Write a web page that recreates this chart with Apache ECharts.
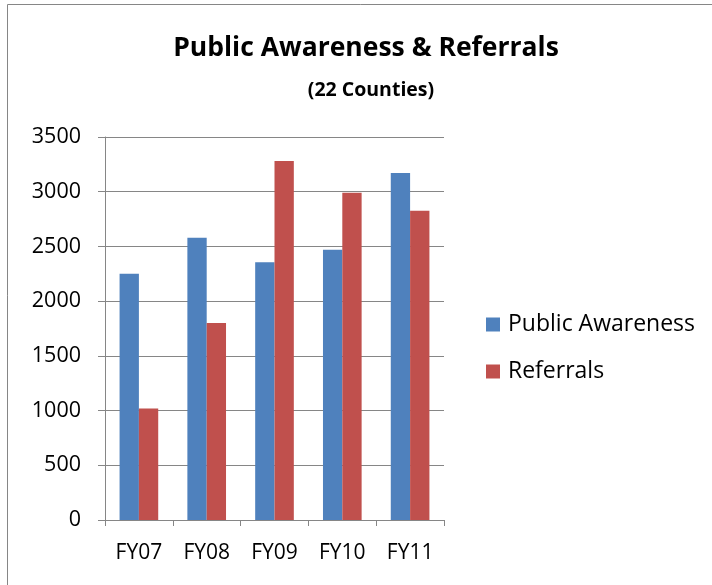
<!DOCTYPE html>
<html><head><meta charset="utf-8">
<script src="https://cdn.jsdelivr.net/npm/echarts@6/dist/echarts.min.js"></script>
<style>html,body{margin:0;padding:0;background:#fff}#c{width:712px;height:585px}</style>
</head><body><div id="c"></div>
<script>
const categories = ['FY07','FY08','FY09','FY10','FY11'];
const publicAwareness = [2250, 2580, 2355, 2470, 3170];
const referrals = [1020, 1800, 3280, 2990, 2825];
const yTicks = {min: 0, max: 3500, interval: 500};
const FONT = 'Open Sans';
const chart = echarts.init(document.getElementById('c'));
chart.setOption({
  animation: false,
  backgroundColor: '#fff',
  textStyle: {fontFamily: FONT},
  graphic: [{type: 'rect', shape: {x: 7.5, y: 4.5, width: 720, height: 600}, style: {fill: 'none', stroke: '#868686', lineWidth: 1}, silent: true}],
  title: [
    {text: 'Public Awareness & Referrals', left: 361, top: 30, textAlign: 'center', textStyle: {fontFamily: FONT, fontSize: 26.5, fontWeight: 'bold', color: '#000'}},
    {text: '(22 Counties)', left: 366, top: 75, textAlign: 'center', textStyle: {fontFamily: FONT, fontSize: 19.5, fontWeight: 'bold', color: '#000'}}
  ],
  legend: {
    orient: 'vertical', left: 486, top: 313, padding: 0, itemWidth: 14, itemHeight: 14, itemGap: 24,
    icon: 'rect',
    textStyle: {fontFamily: FONT, fontSize: 23, color: '#000', padding: [0,0,0,3]},
    data: ['Public Awareness', 'Referrals']
  },
  grid: {left: 105, right: 268, top: 137, bottom: 65, containLabel: false},
  xAxis: {
    type: 'category', data: categories,
    axisLine: {lineStyle: {color: '#868686', width: 1}},
    axisTick: {show: true, length: 6, lineStyle: {color: '#868686'}},
    axisLabel: {fontFamily: FONT, fontSize: 21, color: '#000', margin: 23}
  },
  yAxis: {
    type: 'value', min: yTicks.min, max: yTicks.max, interval: yTicks.interval,
    axisLine: {show: true, lineStyle: {color: '#868686', width: 1}},
    axisTick: {show: true, length: 7, lineStyle: {color: '#868686'}},
    splitLine: {lineStyle: {color: '#868686', width: 1}},
    axisLabel: {fontFamily: FONT, fontSize: 21.5, color: '#000', margin: 24, formatter: v => String(v)}
  },
  series: [
    {name: 'Public Awareness', type: 'bar', data: publicAwareness, barGap: '0%', barCategoryGap: '43%', itemStyle: {color: '#4F81BD'}},
    {name: 'Referrals', type: 'bar', data: referrals, barGap: '0%', barCategoryGap: '43%', itemStyle: {color: '#C0504D'}}
  ]
});
</script></body></html>
